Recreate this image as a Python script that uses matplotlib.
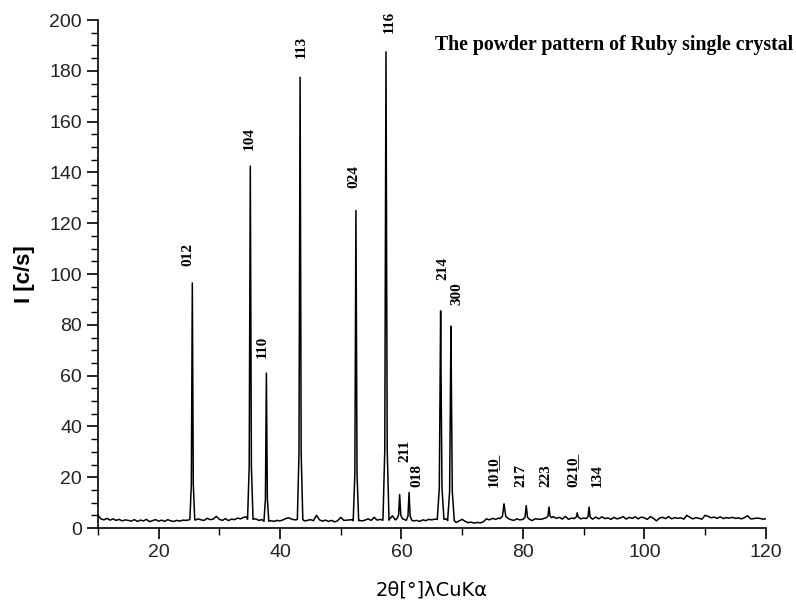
import numpy as np
import matplotlib
matplotlib.use("Agg")
import matplotlib.pyplot as plt
from matplotlib.ticker import MultipleLocator

# background trace, read every 0.5 deg from 10 to 120
bg_x = np.arange(10, 120.5, 0.5)
bg_y = [
    5.0, 3.6, 3.2, 3.8, 3.1, 3.6, 3.0, 3.4, 2.8, 3.2,   # 10 - 14.5
    3.0, 2.7, 3.3, 2.6, 3.1, 2.8, 3.4, 2.5, 2.9, 3.3,   # 15 - 19.5
    2.7, 3.1, 2.6, 3.3, 2.8, 2.6, 3.0, 2.7, 3.1, 3.0,   # 20 - 24.5
    3.2, 3.4, 3.1, 3.6, 3.2, 3.0, 3.8, 3.3, 3.5, 4.6,   # 25 - 29.5
    3.4, 3.0, 3.7, 2.9, 3.5, 3.3, 3.9, 3.6, 4.2, 4.4,   # 30 - 34.5
    3.5, 3.2, 3.6, 3.0, 3.3, 2.8, 2.5, 2.9, 2.6, 3.0,   # 35 - 39.5
    2.8, 3.2, 3.8, 4.0, 3.4, 3.2, 3.0, 3.6, 2.8, 3.0,   # 40 - 44.5
    3.3, 2.9, 5.0, 3.2, 2.7, 3.1, 2.6, 3.0, 2.4, 2.9,   # 45 - 49.5
    4.2, 3.0, 3.1, 3.2, 3.3, 2.9, 3.0, 2.8, 3.1, 3.6,   # 50 - 54.5
    3.0, 4.2, 3.1, 3.4, 3.8, 3.0, 3.4, 4.8, 3.2, 4.0,   # 55 - 59.5
    3.2, 3.3, 3.0, 3.1, 2.8, 3.0, 2.6, 3.2, 2.9, 3.4,   # 60 - 64.5
    3.2, 3.5, 3.2, 3.4, 3.1, 3.6, 3.1, 2.4, 2.2, 2.8,   # 65 - 69.5
    3.4, 2.6, 2.1, 2.3, 1.9, 2.2, 2.0, 2.5, 3.6, 3.2,   # 70 - 74.5
    3.8, 3.4, 3.9, 4.0, 3.6, 3.2, 3.3, 3.0, 3.6, 3.2,   # 75 - 79.5
    3.4, 3.5, 3.2, 2.9, 3.6, 3.5, 3.4, 3.8, 4.3, 3.9,   # 80 - 84.5
    4.5, 3.8, 4.2, 3.5, 4.6, 3.4, 3.9, 3.7, 4.1, 3.6,   # 85 - 89.5
    3.9, 3.4, 3.8, 3.5, 4.3, 3.6, 4.4, 3.7, 4.0, 3.4,   # 90 - 94.5
    4.2, 3.6, 3.9, 4.5, 3.5, 4.2, 3.8, 4.4, 3.6, 4.3,   # 95 - 99.5
    4.0, 3.4, 4.5, 3.8, 2.8, 3.9, 4.2, 3.7, 4.5, 3.6,   # 100 - 104.5
    4.1, 3.8, 4.0, 3.5, 5.0, 4.2, 3.6, 4.1, 3.8, 3.5,   # 105 - 109.5
    5.0, 4.6, 4.0, 4.3, 3.8, 4.4, 3.7, 4.1, 3.9, 4.2,   # 110 - 114.5
    3.8, 4.0, 3.6, 4.1, 4.8, 3.6, 3.7,                  # 115 - 118
    3.9, 3.8, 3.5, 3.6,                                 # 118.5 - 120
]

# reflections: position (2theta), top intensity, foot half-width
peak_x = [25.55, 35.1, 37.75, 43.3, 52.5, 57.45, 59.7, 61.25,
          66.45, 68.15, 76.9, 80.55, 84.3, 88.95, 90.9]
peak_y = [96.5, 142.5, 61.0, 177.5, 125.0, 187.5, 13.2, 14.0,
          85.5, 79.5, 9.5, 8.8, 8.2, 6.0, 8.2]
peak_w = [0.4, 0.45, 0.4, 0.45, 0.45, 0.5, 0.45, 0.45,
          0.55, 0.55, 0.7, 0.5, 0.45, 0.35, 0.45]

# Miller indices and where they sit
hkl = ["012", "104", "110", "113", "024", "116", "211", "018",
       "214", "300", "101\u03320\u0332", "217", "223", "021\u03320\u0332", "134"]
hkl_x = [24.9, 35.0, 37.1, 43.5, 52.1, 58.0, 60.5, 62.6,
         66.9, 69.1, 75.2, 79.6, 83.8, 88.2, 92.3]
hkl_y = [103, 149, 67, 185, 134, 195, 26, 16.2,
         97.6, 88, 16.2, 16.2, 16.2, 16.2, 16.2]


def build_trace(bx, by, px, py, pw):
    """merge background points with peak profiles"""
    bx = np.asarray(bx, dtype=float)
    by = np.asarray(by, dtype=float)
    keep = np.ones(len(bx), dtype=bool)
    xs, ys = [], []
    for x0, h, w in zip(px, py, pw):
        keep &= np.abs(bx - x0) > w
        b = np.interp(x0, bx, by)
        xs += [x0 - w, x0 - 0.4 * w, x0 - 0.15 * w, x0, x0 + 0.15 * w, x0 + 0.4 * w, x0 + w]
        ys += [b, b + 0.15 * (h - b), b + 0.65 * (h - b), h, b + 0.65 * (h - b), b + 0.15 * (h - b), b]
    xs = np.concatenate([bx[keep], xs])
    ys = np.concatenate([by[keep], ys])
    order = np.argsort(xs, kind="stable")
    return xs[order], ys[order]


tx, ty = build_trace(bg_x, bg_y, peak_x, peak_y, peak_w)

fig = plt.figure(figsize=(7.96, 6.09), dpi=100)
ax = fig.add_axes([0.123, 0.133, 0.839, 0.834])

ax.plot(tx, ty, color="black", lw=1.1)

for lab, x, y in zip(hkl, hkl_x, hkl_y):
    ax.text(x, y, lab, rotation=90, ha="center", va="bottom",
            fontsize=11, fontweight="bold", family=["Liberation Serif", "DejaVu Serif"])

fig.text(0.996, 0.926, "The powder pattern of Ruby single crystal",
         ha="right", va="center", fontsize=14.3, fontweight="bold", family="Liberation Serif")

ax.set_xlim(10, 120)
ax.set_ylim(0, 200)
ax.spines["top"].set_visible(False)
ax.spines["right"].set_visible(False)
ax.spines["left"].set_linewidth(1.2)
ax.spines["bottom"].set_linewidth(1.2)
ax.xaxis.set_major_locator(MultipleLocator(20))
ax.xaxis.set_minor_locator(MultipleLocator(10))
ax.yaxis.set_major_locator(MultipleLocator(20))
ax.yaxis.set_minor_locator(MultipleLocator(5))
ax.tick_params(which="major", direction="out", length=8, width=1.2, labelsize=14)
ax.tick_params(which="minor", direction="out", length=5, width=1.0)
for lbl in ax.get_xticklabels() + ax.get_yticklabels():
    lbl.set_family("Liberation Sans")
    lbl.set_color("#222222")

ax.set_ylabel("I [c/s]", fontsize=16, fontweight="bold", family="Liberation Sans", labelpad=10)
ax.set_xlabel("2\u03b8[\u00b0]\u03bbCuK\u03b1", fontsize=14, family="DejaVu Sans", labelpad=14)

fig.savefig("out.png", dpi=100)
